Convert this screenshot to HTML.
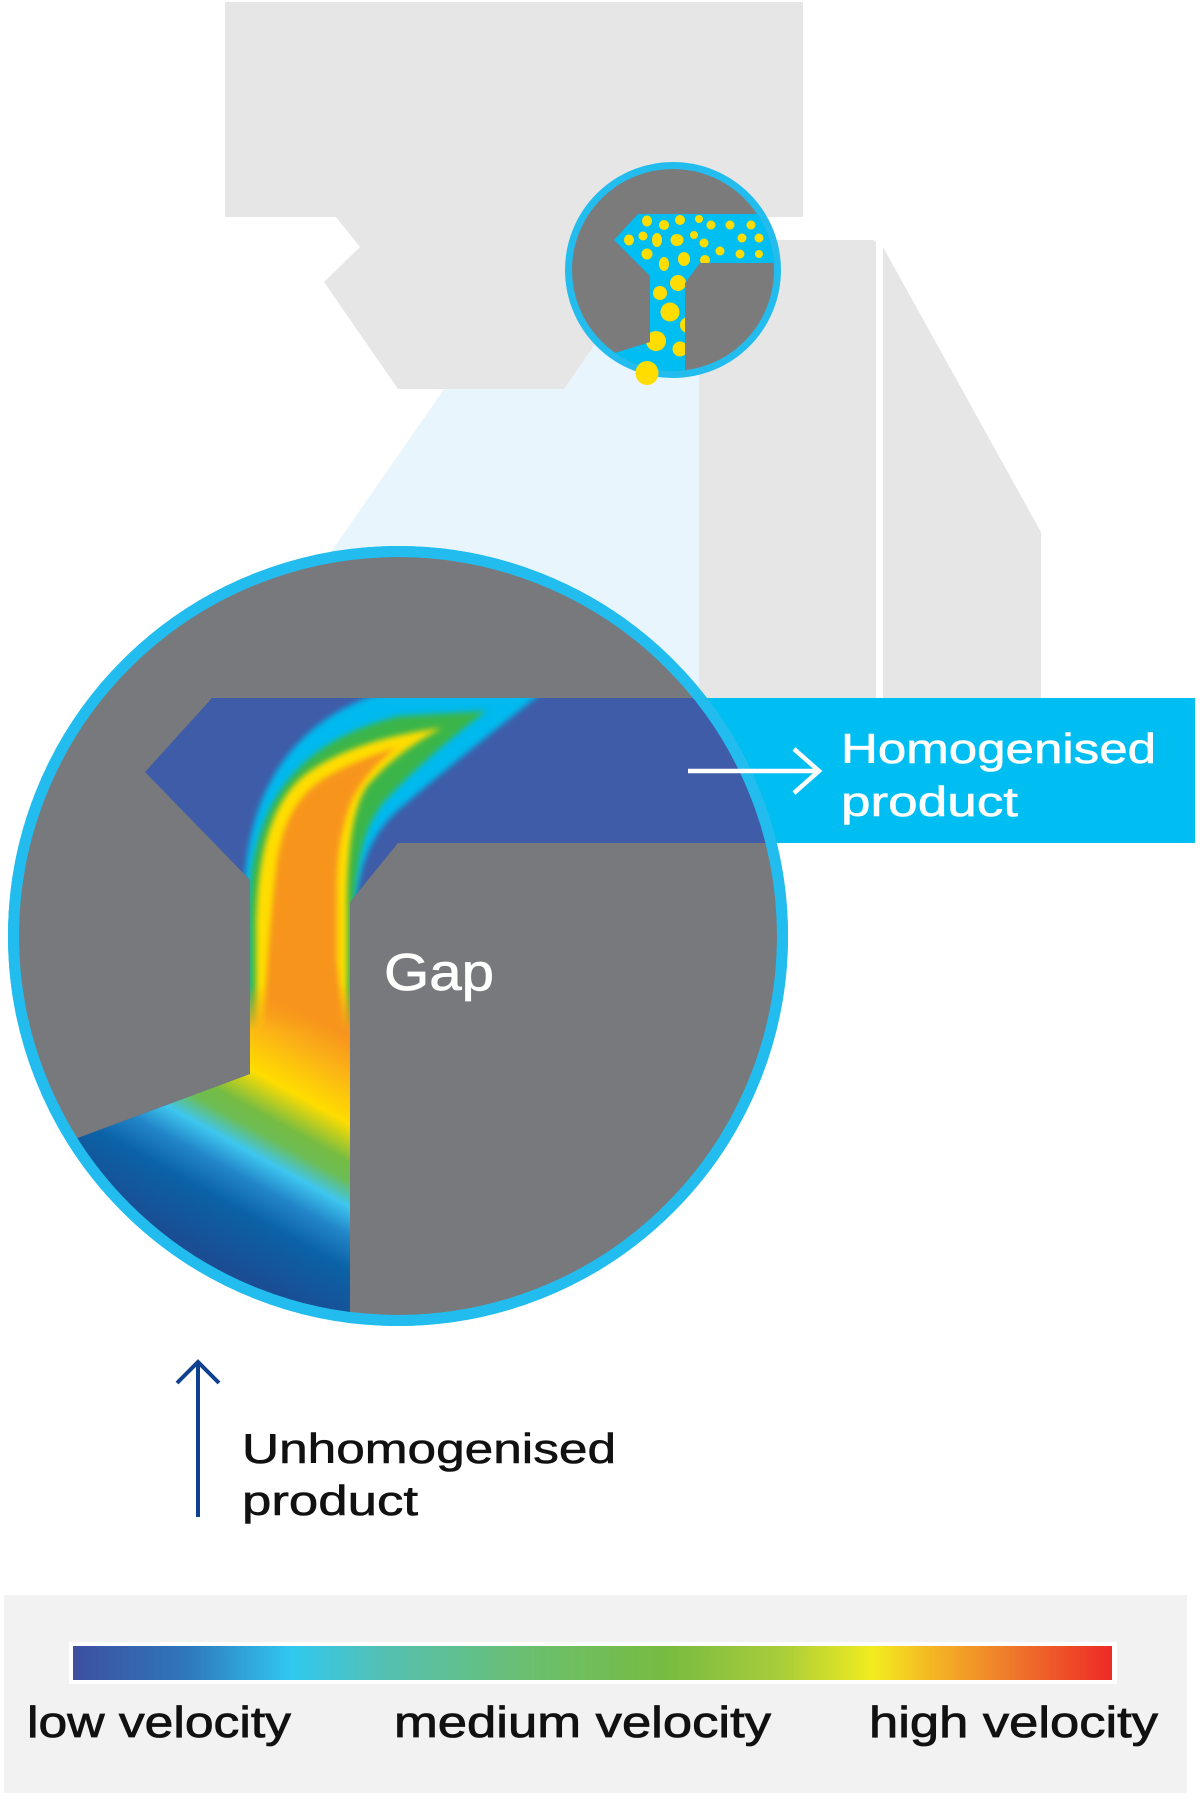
<!DOCTYPE html>
<html><head><meta charset="utf-8"><style>
html,body{margin:0;padding:0;background:#fff;}
svg{display:block;}
text{font-family:"Liberation Sans",sans-serif;}
</style></head><body>
<svg width="1200" height="1805" viewBox="0 0 1200 1805" xmlns="http://www.w3.org/2000/svg">
<defs>
  <clipPath id="bigc"><circle cx="398" cy="936" r="380"/></clipPath>
  <clipPath id="smallc"><circle cx="673" cy="270" r="101"/></clipPath>
  <clipPath id="dom"><path d="M212,698 L1200,698 L1200,843 L398,843 L350,902 L350,1400 L0,1400 L0,1167 L250,1074 L250,880 L145,772 Z"/></clipPath>
  <clipPath id="tshape"><path d="M638,214 L790,214 L790,263 L700,263 L685,283 L685,400 L560,400 L560,370 L618,352 L650,342 L650,276 L614,240 Z"/></clipPath>
  <filter id="bl" x="-20%" y="-20%" width="140%" height="140%"><feGaussianBlur stdDeviation="3"/></filter>
  <filter id="bl2" x="-20%" y="-20%" width="140%" height="140%"><feGaussianBlur stdDeviation="2"/></filter>
  <linearGradient id="inlet" gradientUnits="userSpaceOnUse" x1="350" y1="1037.7" x2="214.8" y2="1283">
    <stop offset="0" stop-color="#f7941d"/>
    <stop offset="0.12" stop-color="#fbb316"/>
    <stop offset="0.27" stop-color="#ffdd00"/>
    <stop offset="0.39" stop-color="#76bc43"/>
    <stop offset="0.45" stop-color="#6dbd55"/>
    <stop offset="0.53" stop-color="#3ec6f0"/>
    <stop offset="0.62" stop-color="#2286c8"/>
    <stop offset="0.73" stop-color="#0b62a6"/>
    <stop offset="0.93" stop-color="#1a4d94"/>
    <stop offset="1" stop-color="#1a4d94"/>
  </linearGradient>
  <linearGradient id="fade" gradientUnits="userSpaceOnUse" x1="0" y1="985" x2="0" y2="1030">
    <stop offset="0" stop-color="#fff" stop-opacity="0"/>
    <stop offset="1" stop-color="#fff" stop-opacity="1"/>
  </linearGradient>
  <mask id="fm" maskUnits="userSpaceOnUse" x="0" y="0" width="1200" height="1805">
    <rect x="0" y="980" width="400" height="500" fill="url(#fade)"/>
  </mask>
  <linearGradient id="legend" x1="0" y1="0" x2="1" y2="0">
    <stop offset="0" stop-color="#3d50a0"/>
    <stop offset="0.11" stop-color="#2f77bb"/>
    <stop offset="0.21" stop-color="#30c8f0"/>
    <stop offset="0.30" stop-color="#55c0b2"/>
    <stop offset="0.45" stop-color="#6cbf6a"/>
    <stop offset="0.57" stop-color="#77bb41"/>
    <stop offset="0.68" stop-color="#a8cc3a"/>
    <stop offset="0.77" stop-color="#f2ec1f"/>
    <stop offset="0.83" stop-color="#f5b324"/>
    <stop offset="0.90" stop-color="#ef7b2b"/>
    <stop offset="1" stop-color="#ee2a26"/>
  </linearGradient>
</defs>

<!-- light blue projection -->
<polygon points="506,300 699,300 699,700 228,700" fill="#e9f5fd"/>

<!-- grey machine shapes -->
<path d="M225,2 L803,2 L803,217 L683,217 L564,389 L398,389 L324,282 L360,247 L336,217 L225,217 Z" fill="#e5e6e5"/>
<path d="M699,240 L872,240 Q876,240 876,244 L876,698 L699,698 Z" fill="#e5e6e5"/>
<path d="M883,247 L1041,532 L1041,698 L883,698 Z" fill="#e5e6e5"/>

<!-- cyan outlet band -->
<rect x="600" y="698" width="595" height="145" fill="#00bdf2"/>

<!-- big circle -->
<circle cx="398" cy="936" r="384.5" fill="#78797c" stroke="#22bdee" stroke-width="11"/>
<g clip-path="url(#bigc)">
  <path d="M212,698 L1200,698 L1200,843 L398,843 L350,902 L350,1400 L0,1400 L0,1167 L250,1074 L250,880 L145,772 Z" fill="#3e5ca8"/>
  <g clip-path="url(#dom)">
    <!-- plume layers -->
    <path filter="url(#bl)" fill="#00b9ee" d="M244,1100 L244,900 C245,800 285,720 390,690 L548,688 C482,740 427,785 396,812 C368,838 360,870 355,905 L355,1100 Z"/>
    <path filter="url(#bl)" fill="#3bb54a" d="M249,1100 L249,905 C252,800 300,740 400,716 L486,711 C445,742 405,778 383,803 C362,830 358,862 354,900 L354,1100 Z"/>
    <path filter="url(#bl)" fill="#ffdd00" d="M256,1100 L256,923 C258,850 272,800 307,773 C340,750 385,735 442,728 C415,742 390,760 368,785 C352,808 348,850 347,900 L347,1100 Z"/>
    <path filter="url(#bl)" fill="#f7941d" d="M263,1100 L264,1020 C266,980 270,920 276,870 C282,818 300,790 335,772 C355,762 375,754 398,747 C378,760 362,780 352,800 C342,825 338,850 337,880 L337,960 L342,1010 L342,1100 Z"/>
    <!-- inlet gradient overlay -->
    <rect x="0" y="980" width="351" height="420" fill="url(#inlet)" mask="url(#fm)"/>
    <path d="M60,1130 L80,1138 L70,1200 L40,1200 Z" fill="#3d50a0" opacity="0.6" filter="url(#bl2)"/>
  </g>
</g>
<circle cx="398" cy="936" r="384.5" fill="none" stroke="#22bdee" stroke-width="11"/>

<!-- Gap label -->
<text x="384" y="990" font-size="52" fill="#fff" stroke="#fff" stroke-width="0.7" textLength="110" lengthAdjust="spacingAndGlyphs">Gap</text>

<!-- homogenised arrow & label -->
<line x1="688" y1="771" x2="819" y2="771" stroke="#fff" stroke-width="4.5"/>
<polyline points="794,749 819,771 794,793" fill="none" stroke="#fff" stroke-width="4.5"/>
<text x="841" y="763" font-size="42" fill="#fff" stroke="#fff" stroke-width="0.6" textLength="315" lengthAdjust="spacingAndGlyphs">Homogenised</text>
<text x="841" y="816" font-size="42" fill="#fff" stroke="#fff" stroke-width="0.6" textLength="177" lengthAdjust="spacingAndGlyphs">product</text>

<!-- small circle -->
<circle cx="673" cy="270" r="104.5" fill="#7b7b7b" stroke="#22bdee" stroke-width="7"/>
<g clip-path="url(#smallc)">
  <path d="M638,214 L790,214 L790,263 L700,263 L685,283 L685,400 L560,400 L560,370 L618,352 L650,342 L650,276 L614,240 Z" fill="#00bdf2"/>
  <g clip-path="url(#tshape)" fill="#ffdd00">
    <ellipse cx="647" cy="221" rx="5" ry="5.5"/>
    <ellipse cx="664" cy="225" rx="5" ry="5"/>
    <ellipse cx="680" cy="220" rx="5" ry="5"/>
    <circle cx="699" cy="219" r="4"/>
    <circle cx="711" cy="225" r="4.5"/>
    <circle cx="730" cy="225" r="4.5"/>
    <circle cx="751" cy="225" r="4.5"/>
    <ellipse cx="629" cy="240" rx="5" ry="5.5"/>
    <circle cx="643" cy="236" r="4.5"/>
    <ellipse cx="657" cy="240" rx="5" ry="7"/>
    <ellipse cx="677" cy="240" rx="6.5" ry="6"/>
    <circle cx="694" cy="235" r="4"/>
    <circle cx="704" cy="243" r="4.5"/>
    <circle cx="720" cy="251" r="4.5"/>
    <circle cx="742" cy="238" r="4.5"/>
    <circle cx="759" cy="238" r="4.5"/>
    <circle cx="740" cy="254" r="4.5"/>
    <circle cx="759" cy="254" r="4"/>
    <ellipse cx="647" cy="254" rx="5.5" ry="5.5"/>
    <ellipse cx="664" cy="264" rx="5" ry="7"/>
    <ellipse cx="684" cy="259" rx="6" ry="7"/>
    <circle cx="705" cy="260" r="5"/>
    <circle cx="678" cy="283" r="8"/>
    <circle cx="660" cy="293" r="7"/>
    <circle cx="670" cy="312" r="9.5"/>
    <circle cx="688" cy="325" r="8"/>
    <circle cx="656" cy="341" r="10"/>
    <circle cx="680" cy="349" r="7.5"/>
  </g>
</g>
<ellipse cx="647" cy="373" rx="11.5" ry="12" fill="#ffdd00"/>

<!-- unhomogenised arrow & label -->
<line x1="198" y1="1362" x2="198" y2="1517" stroke="#0e418f" stroke-width="4"/>
<polyline points="177,1383 198,1362 219,1383" fill="none" stroke="#0e418f" stroke-width="4"/>
<text x="242" y="1463" font-size="42" fill="#111" stroke="#111" stroke-width="0.6" textLength="374" lengthAdjust="spacingAndGlyphs">Unhomogenised</text>
<text x="242" y="1515" font-size="42" fill="#111" stroke="#111" stroke-width="0.6" textLength="176" lengthAdjust="spacingAndGlyphs">product</text>

<!-- legend -->
<rect x="4" y="1595" width="1183" height="198" fill="#f2f2f2"/>
<rect x="69" y="1642" width="1048" height="42" fill="#fff"/>
<rect x="73" y="1646" width="1039" height="34" fill="url(#legend)"/>
<text x="27" y="1737" font-size="44" fill="#111" stroke="#111" stroke-width="0.8" textLength="264" lengthAdjust="spacingAndGlyphs">low velocity</text>
<text x="394" y="1737" font-size="44" fill="#111" stroke="#111" stroke-width="0.8" textLength="377" lengthAdjust="spacingAndGlyphs">medium velocity</text>
<text x="869" y="1737" font-size="44" fill="#111" stroke="#111" stroke-width="0.8" textLength="289" lengthAdjust="spacingAndGlyphs">high velocity</text>
</svg>
</body></html>
